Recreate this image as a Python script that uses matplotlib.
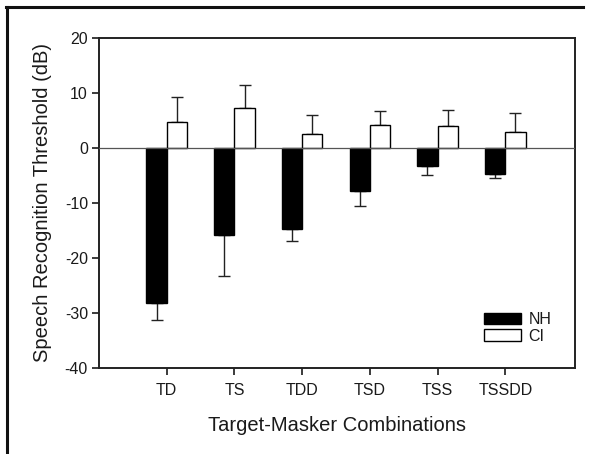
import matplotlib
matplotlib.use("Agg")
import matplotlib.pyplot as plt
from matplotlib.lines import Line2D
import numpy as np

plt.rcParams['font.family'] = ['Liberation Sans', 'DejaVu Sans']
plt.rcParams['axes.unicode_minus'] = False

categories = ["TD", "TS", "TDD", "TSD", "TSS", "TSSDD"]
nh_mean = [-28.2, -15.9, -14.8, -7.8, -3.2, -4.7]
nh_err = [3.1, 7.4, 2.1, 2.8, 1.7, 0.8]
ci_mean = [4.7, 7.2, 2.5, 4.1, 4.0, 2.9]
ci_err = [4.5, 4.2, 3.5, 2.7, 3.0, 3.5]
y_ticks = [20, 10, 0, -10, -20, -30, -40]

W, H = 593, 454
fig = plt.figure(figsize=(W / 100, H / 100), dpi=100)
ax = fig.add_axes([99 / W, 1 - 368 / H, (575 - 99) / W, (368 - 38) / H])

txt = '#1a1a1a'
x = np.arange(len(categories))
bw = 0.3
ax.bar(x - bw / 2, nh_mean, bw, color='black', edgecolor='black', linewidth=1.0, label='NH', zorder=3)
ax.bar(x + bw / 2, ci_mean, bw, color='white', edgecolor='black', linewidth=1.0, label='CI', zorder=3)
ax.errorbar(x - bw / 2, nh_mean, yerr=[nh_err, [0] * len(nh_err)], fmt='none',
            ecolor='#222222', elinewidth=1.0, capsize=4, capthick=1.0, zorder=2)
ax.errorbar(x + bw / 2, ci_mean, yerr=[[0] * len(ci_err), ci_err], fmt='none',
            ecolor='#222222', elinewidth=1.0, capsize=4, capthick=1.0, zorder=2)
ax.axhline(0, color='#555555', linewidth=0.9, zorder=4)

ax.set_xlim(-1.0, 6.03)
ax.set_ylim(-40, 20)
ax.set_yticks(y_ticks)
ax.set_xticks(x)
ax.set_xticklabels(categories)
ax.tick_params(axis='both', direction='out', length=5, width=1.2, labelsize=11.5, colors=txt)
ax.tick_params(axis='x', pad=6)
ax.tick_params(axis='y', pad=3)
for s in ax.spines.values():
    s.set_linewidth(1.4)
    s.set_color('#222222')

ax.set_ylabel('Speech Recognition Threshold (dB)', fontsize=14.5, color=txt, labelpad=9)
ax.set_xlabel('Target-Masker Combinations', fontsize=14.5, color=txt, labelpad=13)

leg = ax.legend(loc='upper left', bbox_to_anchor=(484 / W, 1 - 312 / H),
                bbox_transform=fig.transFigure, frameon=False, fontsize=11.5,
                handlelength=2.3, handleheight=0.75, handletextpad=0.5,
                labelspacing=0.12, borderpad=0, borderaxespad=0)
for t in leg.get_texts():
    t.set_color(txt)

# outer frame (left and top lines)
fig.add_artist(Line2D([6.5 / W, 6.5 / W], [0, 1 - 7 / H], transform=fig.transFigure,
                      color='#111111', linewidth=2.2))
fig.add_artist(Line2D([5.5 / W, 583 / W], [1 - 7 / H, 1 - 7 / H], transform=fig.transFigure,
                      color='#111111', linewidth=2.2))

fig.savefig('out.png', dpi=100)
